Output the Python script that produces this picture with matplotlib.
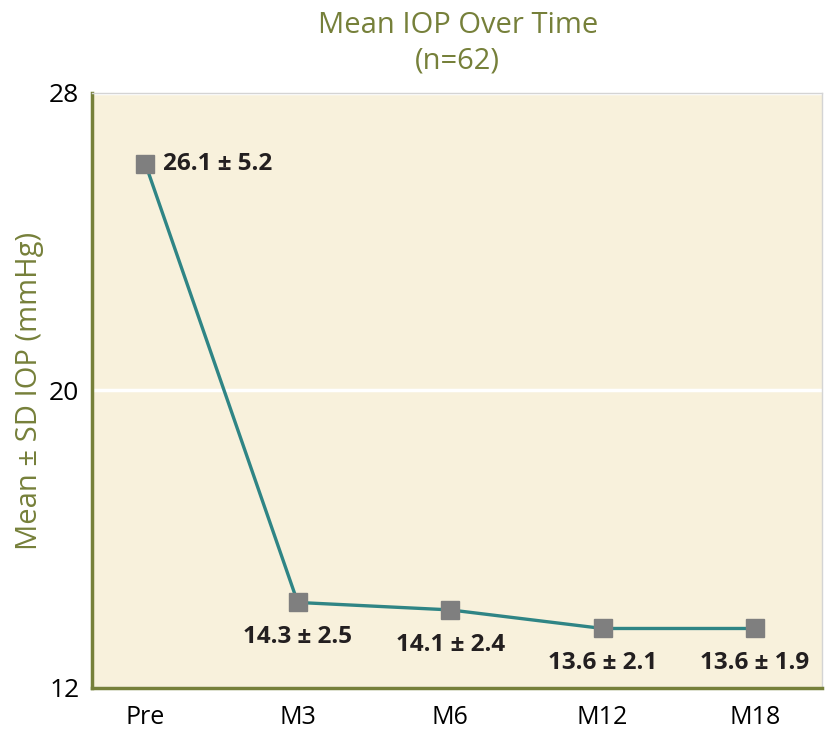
import matplotlib
matplotlib.use("Agg")
import matplotlib.pyplot as plt
import numpy as np

# Data
visits = ["Pre", "M3", "M6", "M12", "M18"]
mean_iop = [26.1, 14.3, 14.1, 13.6, 13.6]
sd_iop = [5.2, 2.5, 2.4, 2.1, 1.9]
y_ticks = [12, 20, 28]

olive = "#76803a"
plt.rcParams["font.family"] = ["Open Sans", "DejaVu Sans"]

fig = plt.figure(figsize=(8.4, 7.42), dpi=100)
ax = fig.add_axes([0.1095, 0.0728, 0.8691, 0.8019])
ax.set_facecolor("#f8f1dc")

x = np.arange(len(visits))
ax.plot(x, mean_iop, color="#2f8585", linewidth=2.4, zorder=3)
ax.plot(x, mean_iop, linestyle="none", marker="s", markersize=13,
        color="#7f7f7f", zorder=4)

# Labels: first one to the right, the rest below the markers
for i, (m, s) in enumerate(zip(mean_iop, sd_iop)):
    txt = f"{m} ± {s}"
    if i == 0:
        ax.annotate(txt, (x[i], m), xytext=(13, 0), textcoords="offset points",
                    ha="left", va="center", fontsize=17.5, fontweight="bold",
                    color="#231f20")
    else:
        ax.annotate(txt, (x[i], m), xytext=(0, -25), textcoords="offset points",
                    ha="center", va="center", fontsize=17.5, fontweight="bold",
                    color="#231f20")

ax.set_xlim(-0.35, 4.44)
ax.set_ylim(12, 28)
ax.set_xticks(x)
ax.set_xticklabels(visits, fontsize=18, fontweight="medium")
ax.set_yticks(y_ticks)
ax.set_yticklabels([str(t) for t in y_ticks], fontsize=19, fontweight="medium")
ax.tick_params(length=0)
ax.tick_params(axis="x", pad=12)
ax.tick_params(axis="y", pad=9)

ax.grid(axis="y", color="white", linewidth=2.5)
ax.set_axisbelow(True)

for side in ["left", "bottom"]:
    ax.spines[side].set_color(olive)
    ax.spines[side].set_linewidth(2.5)
for side in ["top", "right"]:
    ax.spines[side].set_color("#d4d4d4")
    ax.spines[side].set_linewidth(1)

ax.set_ylabel("Mean ± SD IOP (mmHg)", fontsize=21, color=olive,
              fontweight="medium", labelpad=4)
fig.text(0.545, 0.966, "Mean IOP Over Time", ha="center", va="center",
         fontsize=21, color=olive, fontweight="medium")
fig.text(0.545, 0.918, "(n=62)", ha="center", va="center",
         fontsize=21, color=olive, fontweight="medium")

fig.savefig("out.png", dpi=100, facecolor="white")
